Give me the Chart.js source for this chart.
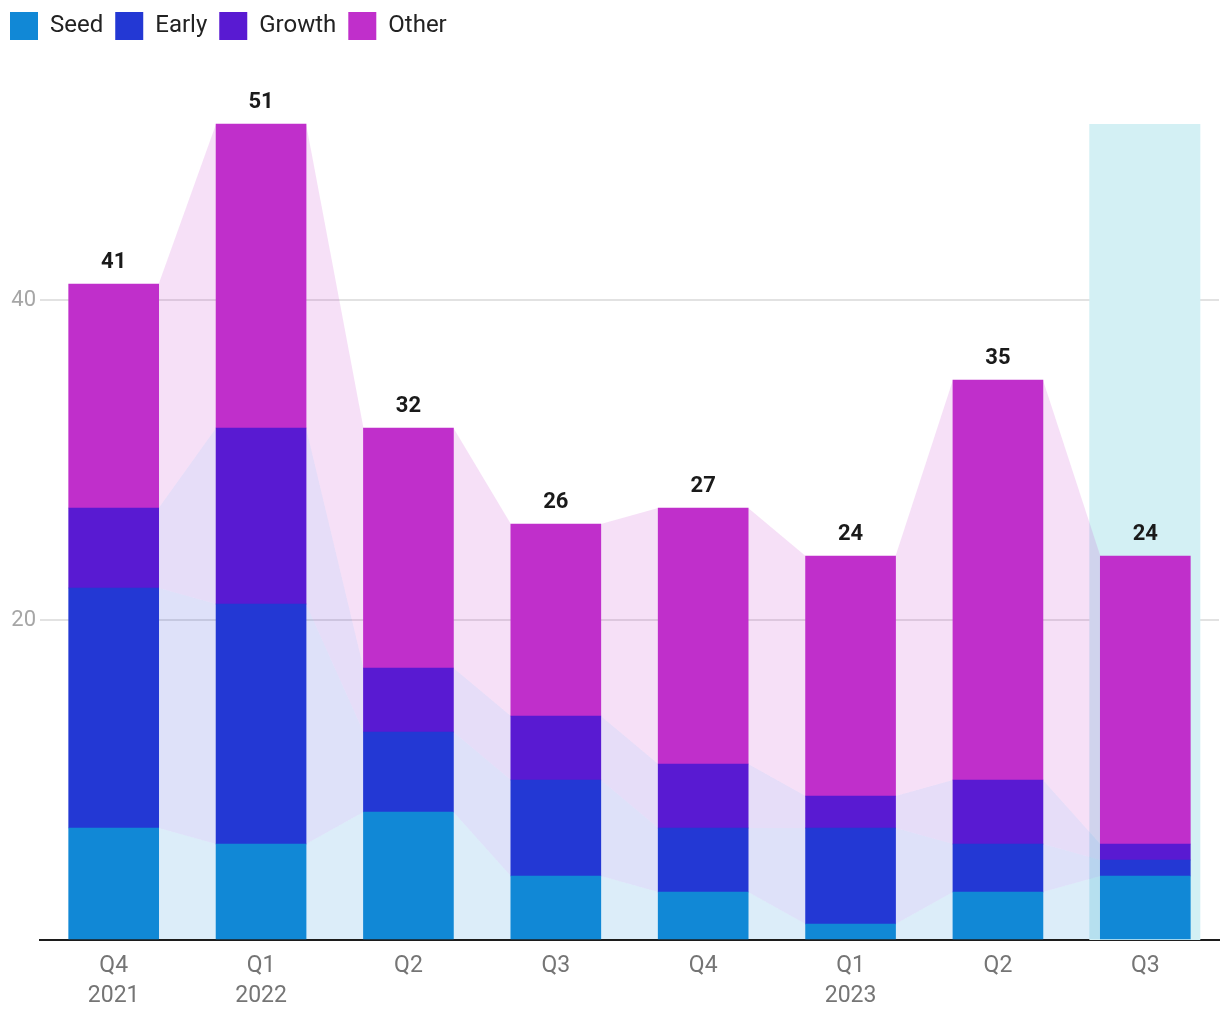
<!DOCTYPE html>
<html>
<head>
<meta charset="utf-8">
<script src="https://cdn.jsdelivr.net/npm/chart.js@4.4.0/dist/chart.umd.min.js"></script>
<style>
  html, body { margin: 0; padding: 0; background: #fff; }
  #wrap { width: 1220px; height: 1020px; }
</style>
</head>
<body>
<div id="wrap"><canvas id="chart"></canvas></div>
<script>
// quarters, multi-line tick labels
const labels = [['Q4', '2021'], ['Q1', '2022'], ['Q2'], ['Q3'], ['Q4'], ['Q1', '2023'], ['Q2'], ['Q3']]
const seed   = [7, 6, 8, 4, 3, 1, 3, 4]
const early  = [15, 15, 5, 6, 4, 6, 3, 1]
const growth = [5, 11, 4, 4, 4, 2, 4, 1]
const other  = [14, 19, 15, 12, 16, 15, 25, 18]
const yTicks = [20, 40]
const highlightIndex = 7

const colors = {
    Seed: '17,136,214',
    Early: '35,56,212',
    Growth: '89,26,210',
    Other: '192,47,203'
}

const totals = seed.map((v, i) => v + early[i] + growth[i] + other[i])

// light bands joining same segment of neighbouring bars + highlight column
const bridges = {
    id: 'bridges',
    beforeInit(chart) {
        // leave a bit more room under the legend
        const fit = chart.legend.fit
        chart.legend.fit = function () {
            fit.call(this)
            this.height = 60
        }
    },
    beforeDatasetsDraw(chart) {
        const ctx = chart.ctx
        const y = chart.scales.y
        const last = chart.getDatasetMeta(0).data[highlightIndex].getProps(['x', 'width'], true)
        const top = y.getPixelForValue(Math.max(...totals))
        ctx.save()
        ctx.fillStyle = '#d3f0f4'
        ctx.fillRect(last.x - last.width / 2 - 11, top, last.width + 21, y.getPixelForValue(0) - top)
        chart.data.datasets.forEach((ds, di) => {
            const bars = chart.getDatasetMeta(di).data
            ctx.fillStyle = 'rgba(' + colors[ds.label] + ',0.15)'
            for (let i = 0; i < bars.length - 1; i++) {
                const a = bars[i].getProps(['x', 'y', 'base', 'width'], true)
                const b = bars[i + 1].getProps(['x', 'y', 'base', 'width'], true)
                const xr = a.x + a.width / 2
                const xl = b.x - b.width / 2
                ctx.beginPath()
                ctx.moveTo(xr, a.y)
                ctx.lineTo(xl, b.y)
                ctx.lineTo(xl, b.base)
                ctx.lineTo(xr, a.base)
                ctx.closePath()
                ctx.fill()
            }
        })
        ctx.restore()
    },
    afterDatasetsDraw(chart) {
        const ctx = chart.ctx
        const topMeta = chart.getDatasetMeta(chart.data.datasets.length - 1)
        ctx.save()
        ctx.font = 'bold 22px Roboto'
        ctx.fillStyle = '#1a1a1a'
        ctx.textAlign = 'center'
        ctx.textBaseline = 'alphabetic'
        topMeta.data.forEach((bar, i) => {
            const p = bar.getProps(['x', 'y'], true)
            ctx.fillText(String(totals[i]), p.x, p.y - 16)
        })
        ctx.restore()
    }
}

const series = [['Seed', seed], ['Early', early], ['Growth', growth], ['Other', other]]

new Chart('chart', {
    type: 'bar',
    data: {
        labels: labels,
        datasets: series.map(s => ({
            label: s[0],
            data: s[1],
            backgroundColor: 'rgb(' + colors[s[0]] + ')',
            borderWidth: 0,
            barThickness: 90
        }))
    },
    options: {
        responsive: true,
        maintainAspectRatio: false,
        animation: false,
        layout: { padding: { left: -2, right: 1, top: 0, bottom: -2 } },
        plugins: {
            legend: {
                align: 'start',
                labels: {
                    boxWidth: 28,
                    boxHeight: 28,
                    padding: 12,
                    color: '#222',
                    font: { family: 'Roboto', size: 24 }
                }
            },
            tooltip: { enabled: false }
        },
        scales: {
            x: {
                stacked: true,
                grid: { display: false, drawTicks: false },
                border: { color: '#1c1c1c', width: 2 },
                ticks: {
                    color: '#757575',
                    padding: 11,
                    font: { family: 'Roboto', size: 23, lineHeight: 1.304 }
                }
            },
            y: {
                stacked: true,
                min: 0,
                max: 55,
                border: { display: false },
                afterFit: s => { s.width = 42 },
                grid: {
                    drawTicks: false,
                    color: c => yTicks.includes(c.tick.value) ? '#e2e2e2' : 'rgba(0,0,0,0)',
                    lineWidth: 2
                },
                ticks: {
                    stepSize: 20,
                    padding: 4,
                    color: '#a6a6a6',
                    font: { family: 'Roboto', size: 22 },
                    callback: v => yTicks.includes(v) ? v : ''
                }
            }
        }
    },
    plugins: [bridges]
})
</script>
</body>
</html>
